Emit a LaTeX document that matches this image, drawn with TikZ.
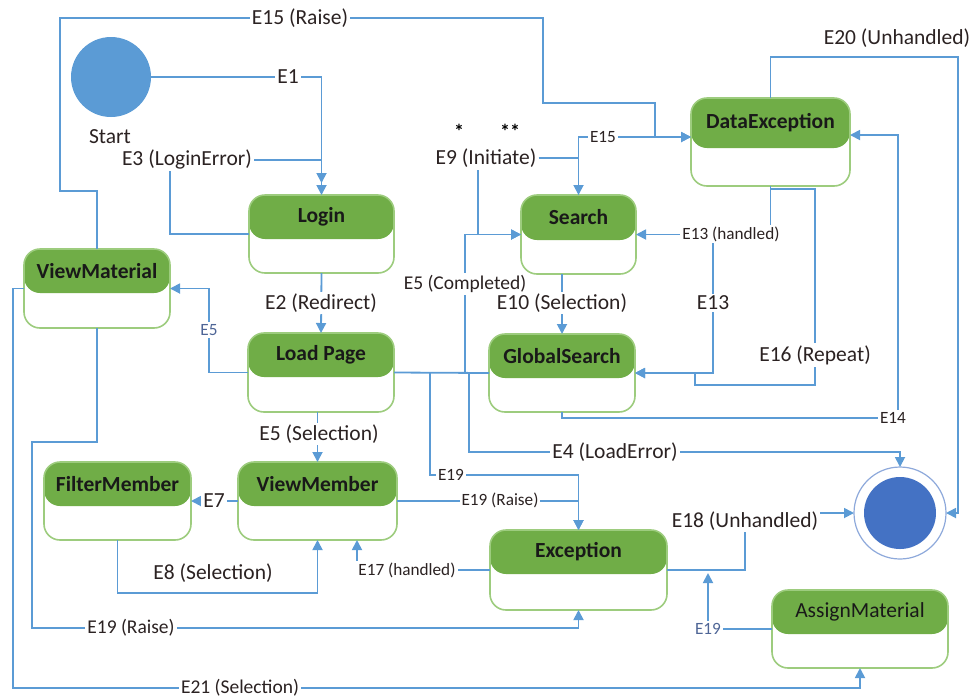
\documentclass[tikz,border=0pt]{standalone}
\usepackage{fontspec}
\setmainfont{Carlito}
\usetikzlibrary{arrows.meta,calc}
\definecolor{hdr}{HTML}{70AD47}
\definecolor{bord}{HTML}{9DCC7E}
\definecolor{ln}{HTML}{5B9BD5}
\definecolor{endf}{HTML}{4472C4}
\definecolor{ring}{HTML}{8EA9DB}
\definecolor{txt}{HTML}{2B2222}
\definecolor{bluet}{HTML}{4E6596}
\tikzset{
  stbox/.style={rectangle, rounded corners=8pt, draw=bord, line width=0.8pt, fill=white, inner sep=0pt, outer sep=0pt},
  ttl/.style={font=\fontsize{10.75}{12}\selectfont\bfseries, text=black!90, inner sep=0pt},
  conn/.style={draw=ln, line width=0.9pt, -{Triangle[length=5pt,width=5pt]}},
  plain/.style={draw=ln, line width=0.9pt},
  biglbl/.style={font=\fontsize{10.75}{12}\selectfont, text=txt, fill=white, inner sep=1pt},
  midlbl/.style={font=\fontsize{9.75}{11}\selectfont, text=txt, fill=white, inner sep=1pt},
  smlbl/.style={font=\fontsize{8.6}{10}\selectfont, text=txt, fill=white, inner sep=1pt},
  bluelbl/.style={font=\fontsize{8.6}{10}\selectfont, text=bluet, fill=white, inner sep=1pt},
}
\newcommand\stbox[7]{%
  \node[stbox, minimum width=#4*0.5pt, minimum height=#5*0.5pt,
    path picture={\fill[hdr] (path picture bounding box.north west) rectangle ([yshift=-#6*0.5pt]path picture bounding box.north east);}] (#1) at (#2,#3) {};
  \node[ttl] (#1-t) at ([yshift=-#6*0.25pt]#1.north) {#7};
}
\begin{document}
\begin{tikzpicture}[x=0.5pt,y=-0.5pt]
\useasboundingbox (0,0) rectangle (975,698);
% states
\stbox{login}{321.5}{234}{145}{78}{44}{Login}
\stbox{search}{578.5}{234.5}{115}{79}{45}{Search}
\stbox{dataexc}{770.5}{142}{159}{88}{50}{DataException}
\stbox{viewmat}{97}{288.5}{146}{79}{44}{ViewMaterial}
\stbox{loadpage}{321}{372.5}{146}{79}{44}{Load Page}
\stbox{globalsearch}{562}{373}{146}{78}{44}{GlobalSearch}
\stbox{filtermember}{117.5}{501}{147}{78}{44}{FilterMember}
\stbox{viewmember}{317.5}{501}{159}{78}{44}{ViewMember}
\stbox{exception}{578.5}{570}{177}{80}{44}{Exception}
\node[stbox, minimum width=88pt, minimum height=39pt,
  path picture={\fill[hdr] (path picture bounding box.north west) rectangle ([yshift=-22pt]path picture bounding box.north east);}] (assign) at (860,629) {};
\node[font=\fontsize{10.75}{12}\selectfont, text=black!90, inner sep=0pt] (assign-t) at ([yshift=-11pt]assign.north) {AssignMaterial};
% pseudo states
\node[circle, fill=ln, minimum size=40pt, inner sep=0pt, outer sep=0pt] (start) at (111,77) {};
\node[circle, draw=ring, line width=0.6pt, fill=white, minimum size=46pt, inner sep=0pt, outer sep=0pt] (endc) at (900,513) {};
\node[circle, fill=endf, minimum size=36pt, inner sep=0pt] (endin) at (900,513) {};
\node[font=\fontsize{10.75}{12}\selectfont, text=txt] (startl) at (110,137) {Start};
\node[font=\fontsize{10}{12}\selectfont\bfseries, text=black] (star1) at (459,131) {*};
\node[font=\fontsize{10}{12}\selectfont\bfseries, text=black] (star2) at (510,131) {**};
\node[biglbl] (e9) at (486,158) {E9 (Initiate)};
% connectors
\draw[conn] (start.east) -| (login.north);
\draw[conn] (login.west) -- (170,234) -- (170,160) -- (321.5,160) -- (321.5,183);
\draw[conn] (viewmat.north) -- (97,191) -- (60,191) -- (60,18) -- (543,18) -- (543,103) -- (655,103) -- (655,137) -- (dataexc.west |- 0,137);
\draw[conn] (search.north) -- (578.5,137) -- (dataexc.west |- 0,137);
\draw[conn] (e9.east) -- (578.5,158) -- (search.north);
\draw[conn] (478,170) |- (search.west);
\draw[plain] (loadpage.east) -- (globalsearch.west);
\draw[conn] (465,372.5) |- (search.west);
\draw[conn] (login.south) -- (loadpage.north);
\draw[conn] (loadpage.west) -| (209,330) |- (viewmat.east);
\draw[conn] (viewmember.north |- loadpage.south) -- (viewmember.north);
\draw[conn] (globalsearch.north |- search.south) -- (globalsearch.north);
\draw[conn] (dataexc.south) |- (search.east);
\draw[conn] (713,234.5) |- (globalsearch.east);
\draw[conn] (dataexc.south) -- (770.5,189) -- (815,189) -- (815,385) -- (695,385) -- (695,373) -- (globalsearch.east);
\draw[conn] (globalsearch.south) -- (562,418) -- (898,418) -- (898,135) -- (dataexc.east |- 0,135);
\draw[conn] (dataexc.north) -- (770.5,57) -| (958,513) -- (endc.east);
\draw[conn] (430,372.5) -- (430,475) -- (578.5,475) -- (exception.north);
\draw[conn] (viewmember.east) -| (exception.north);
\draw[conn] (469,372.5) -- (469,452) -| (endc.north);
\draw[conn] (viewmember.west) -- (filtermember.east);
\draw[conn] (filtermember.south) -- (117.5,593) -| (viewmember.south);
\draw[conn] (exception.west) -| (viewmember.south -| 357,0);
\draw[conn] (exception.east) -- (745,570) |- (endc.west);
\draw[conn] (assign.west) -| (708,573);
\draw[conn] (viewmat.south) -- (97,442) -- (32,442) -- (32,628) -| (exception.south);
\draw[conn] (viewmat.west) -- (13,288.5) -- (13,688) -| (assign.south);
% labels
\node[biglbl] (l15r) at (300,18) {E15 (Raise)};
\node[biglbl] (l1) at (288,77) {E1};
\node[biglbl] (l3) at (187,159) {E3 (LoginError)};
\node[smlbl] (l15) at (603,137) {E15};
\node[biglbl] (l2) at (321,303) {E2 (Redirect)};
\node[bluelbl] (l5a) at (209,330) {E5};
\node[biglbl] (l5s) at (319,434) {E5 (Selection)};
\node[midlbl] (l5c) at (465,284) {E5 (Completed)};
\node[biglbl] (l10) at (562,303) {E10 (Selection)};
\node[smlbl] (l13h) at (731,234) {E13 (handled)};
\node[biglbl] (l13) at (713,303) {E13};
\node[biglbl] (l16) at (815,355) {E16 (Repeat)};
\node[smlbl] (l14) at (893,418) {E14};
\node[biglbl, fill=none] (l20) at (897,38) {E20 (Unhandled)};
\node[biglbl] (l4) at (615,452) {E4 (LoadError)};
\node[smlbl] (l19a) at (451,475) {E19};
\node[smlbl] (l19b) at (500,500) {E19 (Raise)};
\node[biglbl] (l7) at (214,501) {E7};
\node[biglbl] (l8) at (213,573) {E8 (Selection)};
\node[smlbl] (l17) at (407,570) {E17 (handled)};
\node[biglbl] (l18) at (745,521) {E18 (Unhandled)};
\node[bluelbl] (l19c) at (708,629) {E19};
\node[midlbl] (l19d) at (131,628) {E19 (Raise)};
\node[midlbl] (l21) at (240,688) {E21 (Selection)};
\end{tikzpicture}
\end{document}
